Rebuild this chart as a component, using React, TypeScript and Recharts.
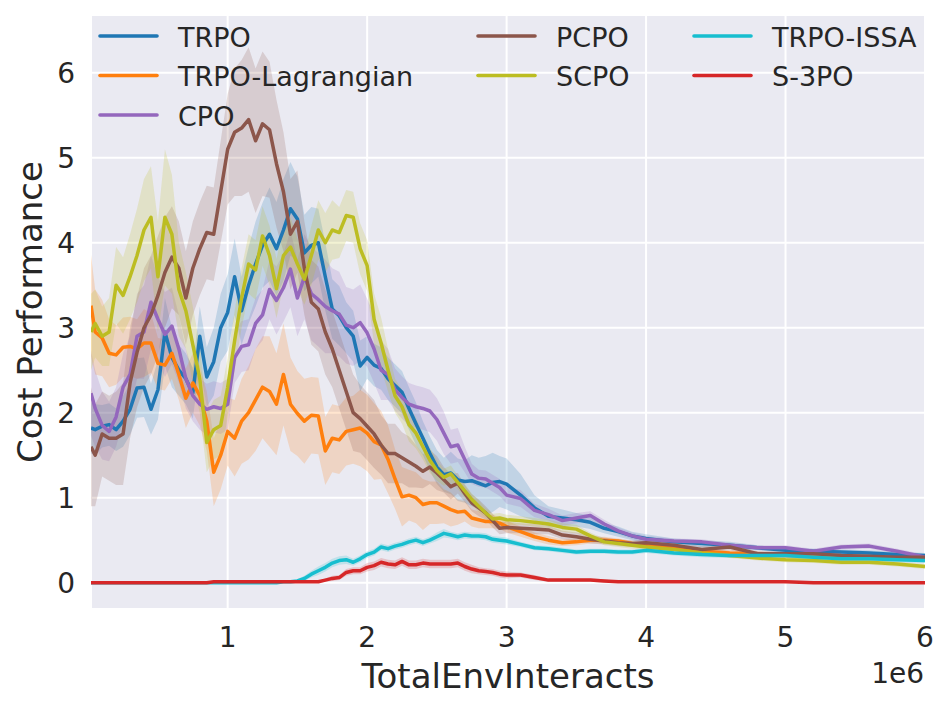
import { Area, CartesianGrid, ComposedChart, Line, XAxis, YAxis } from "recharts";

// Colors (matplotlib tab10)
const COLORS = {
  trpo: "#1f77b4",
  lag: "#ff7f0e",
  cpo: "#9467bd",
  pcpo: "#8c564b",
  scpo: "#bcbd22",
  issa: "#17becf",
  s3po: "#d62728",
};

const FONT = "DejaVu Sans";
const TEXT = "#262626";

// TotalEnvInteracts, in units of 1e6
const X_M = [
  0.02, 0.05, 0.1, 0.15, 0.2, 0.25, 0.3, 0.35, 0.4, 0.45,
  0.5, 0.55, 0.6, 0.65, 0.7, 0.75, 0.8, 0.85, 0.9, 0.95,
  1.0, 1.05, 1.1, 1.15, 1.2, 1.25, 1.3, 1.35, 1.4, 1.45,
  1.5, 1.55, 1.6, 1.65, 1.7, 1.75, 1.8, 1.85, 1.9, 1.95,
  2.0, 2.05, 2.1, 2.15, 2.2, 2.25, 2.3, 2.35, 2.4, 2.45,
  2.5, 2.55, 2.6, 2.65, 2.7, 2.75, 2.8, 2.85, 2.9, 2.95,
  3.0, 3.1, 3.2, 3.3, 3.4, 3.5, 3.6, 3.7, 3.8, 3.9,
  4.0, 4.2, 4.4, 4.6, 4.8, 5.0, 5.2, 5.4, 5.6, 5.8, 6.0,
];

const X_TICKS = [1, 2, 3, 4, 5, 6];
const Y_TICKS = [0, 1, 2, 3, 4, 5, 6];

// mean cost per method
const TRPO = [
  1.82, 1.8, 1.84, 1.86, 1.8, 1.9, 2.04, 2.29, 2.3, 2.04,
  2.27, 2.95, 2.65, 2.5, 2.4, 2.23, 2.9, 2.42, 2.6, 3.0,
  3.18, 3.6, 3.2, 3.5, 3.75, 3.97, 4.1, 3.93, 4.15, 4.4,
  4.28, 3.88, 3.97, 4.0, 3.6, 3.22, 3.14, 3.0, 2.9, 2.55,
  2.65, 2.56, 2.52, 2.4, 2.32, 2.24, 2.05, 1.87, 1.7, 1.52,
  1.36, 1.27, 1.29, 1.21, 1.19, 1.2, 1.17, 1.14, 1.18, 1.19,
  1.16, 1.03, 0.88, 0.78, 0.76, 0.74, 0.71, 0.64, 0.6, 0.55,
  0.52, 0.48, 0.46, 0.44, 0.41, 0.38, 0.37, 0.36, 0.35, 0.33, 0.32,
];
const TRPO_LAG = [
  3.26, 2.95, 2.88, 2.7, 2.68, 2.77, 2.78, 2.75, 2.82, 2.82,
  2.58, 2.56, 2.7, 2.45, 2.17, 2.35, 2.2, 1.9, 1.3, 1.5,
  1.78, 1.7, 1.9, 2.0, 2.15, 2.3, 2.25, 2.1, 2.45, 2.1,
  1.99, 1.9, 1.97, 1.96, 1.55, 1.7, 1.68, 1.78, 1.8, 1.82,
  1.76, 1.66, 1.62, 1.45, 1.22, 1.01, 1.03, 1.0, 0.92, 0.94,
  0.94, 0.9, 0.86, 0.83, 0.84, 0.76, 0.74, 0.72, 0.72, 0.7,
  0.66, 0.6, 0.54, 0.5, 0.47, 0.48, 0.5, 0.5, 0.49, 0.46,
  0.44, 0.41, 0.37, 0.35, 0.34, 0.32, 0.32, 0.3, 0.3, 0.29, 0.28,
];
const CPO = [
  2.23, 2.05, 1.85, 1.78, 1.95, 2.3, 2.45, 2.9, 2.95, 3.3,
  3.1, 2.92, 3.02, 2.75, 2.4, 2.2, 2.1, 2.04, 2.07, 2.05,
  2.1, 2.65, 2.78, 2.8, 3.05, 3.15, 3.45, 3.32, 3.47, 3.69,
  3.35, 3.6, 3.4, 3.33, 3.25, 3.2, 3.16, 3.03, 3.0, 3.06,
  2.94, 2.75, 2.5, 2.45, 2.27, 2.18, 2.1, 2.07, 2.05, 2.02,
  1.92, 1.76, 1.6, 1.62, 1.45, 1.28, 1.23, 1.22, 1.17, 1.12,
  1.03, 0.99, 0.85, 0.8, 0.73, 0.76, 0.79, 0.69, 0.61, 0.55,
  0.51, 0.49, 0.48, 0.44, 0.41, 0.41, 0.37, 0.42, 0.43, 0.37, 0.3,
];
const PCPO = [
  1.6, 1.5, 1.75, 1.7, 1.7, 1.75, 2.35, 2.71, 3.0, 3.15,
  3.38, 3.65, 3.83, 3.7, 3.35, 3.7, 3.93, 4.12, 4.1, 4.6,
  5.1, 5.3, 5.35, 5.45, 5.2, 5.4, 5.33, 4.93, 4.6, 4.1,
  4.25, 3.7, 3.3, 3.22, 2.95, 2.75, 2.5, 2.25, 2.0, 1.93,
  1.84, 1.75, 1.62, 1.52, 1.52, 1.47, 1.42, 1.37, 1.31, 1.36,
  1.29, 1.21, 1.13, 1.17, 1.05, 0.94, 0.88, 0.82, 0.73, 0.64,
  0.65, 0.64, 0.63, 0.62, 0.56, 0.54, 0.51, 0.49, 0.47, 0.46,
  0.47, 0.44, 0.39, 0.42, 0.34, 0.34, 0.34, 0.32, 0.31, 0.3, 0.3,
];
const SCPO = [
  2.95, 3.05, 2.9, 2.95, 3.5, 3.38, 3.6, 3.85, 4.15, 4.3,
  3.6, 4.3, 4.1, 3.45, 3.2, 2.8, 2.4, 1.65, 1.8, 1.85,
  2.3, 2.85, 3.35, 3.75, 3.68, 4.08, 3.85, 3.46, 3.85, 3.95,
  3.75, 3.57, 3.85, 4.15, 4.0, 4.15, 4.12, 4.32, 4.3, 3.93,
  3.73, 3.1, 2.82, 2.5, 2.2, 2.07, 1.86, 1.76, 1.6, 1.44,
  1.32, 1.24, 1.28, 1.18, 1.08, 0.98, 0.9, 0.82, 0.75, 0.76,
  0.74, 0.73, 0.71, 0.69, 0.65, 0.63, 0.55, 0.48, 0.46, 0.44,
  0.42, 0.39, 0.35, 0.32, 0.29, 0.27, 0.26, 0.24, 0.24, 0.22, 0.19,
];
const TRPO_ISSA = [
  0, 0, 0, 0, 0, 0, 0, 0, 0, 0,
  0, 0, 0, 0, 0, 0, 0, 0, 0, 0,
  0, 0, 0, 0, 0, 0, 0, 0, 0.01, 0.01,
  0.02, 0.05, 0.1, 0.14, 0.18, 0.23, 0.26, 0.27, 0.24, 0.28,
  0.33, 0.36, 0.42, 0.4, 0.43, 0.45, 0.48, 0.5, 0.47, 0.5,
  0.54, 0.58, 0.56, 0.54, 0.56, 0.55, 0.55, 0.54, 0.51, 0.5,
  0.49, 0.45, 0.41, 0.4, 0.38, 0.36, 0.37, 0.37, 0.36, 0.36,
  0.38, 0.35, 0.33, 0.32, 0.32, 0.32, 0.3, 0.28, 0.28, 0.27, 0.26,
];
const S3PO = [
  0, 0, 0, 0, 0, 0, 0, 0, 0, 0,
  0, 0, 0, 0, 0, 0, 0, 0, 0.01, 0.01,
  0.01, 0.01, 0.01, 0.01, 0.01, 0.01, 0.01, 0.01, 0.01, 0.01,
  0.01, 0.01, 0.01, 0.01, 0.03, 0.05, 0.06, 0.12, 0.14, 0.14,
  0.18, 0.2, 0.24, 0.22, 0.21, 0.25, 0.21, 0.21, 0.23, 0.22,
  0.22, 0.22, 0.22, 0.23, 0.19, 0.16, 0.14, 0.13, 0.12, 0.1,
  0.09, 0.09, 0.06, 0.03, 0.03, 0.03, 0.03, 0.02, 0.01, 0.01,
  0.01, 0.01, 0.01, 0.01, 0.01, 0.01, 0, 0, 0, 0, 0,
];

// half-width of the shaded band per method
const TRPO_SPREAD = [
  0.3, 0.3, 0.25, 0.25, 0.25, 0.3, 0.3, 0.35, 0.35, 0.3,
  0.35, 0.4, 0.35, 0.3, 0.3, 0.3, 0.35, 0.35, 0.4, 0.4,
  0.45, 0.45, 0.4, 0.45, 0.5, 0.5, 0.55, 0.55, 0.6, 0.55,
  0.5, 0.45, 0.45, 0.4, 0.4, 0.35, 0.35, 0.3, 0.3, 0.3,
  0.25, 0.25, 0.25, 0.25, 0.25, 0.25, 0.25, 0.25, 0.2, 0.2,
  0.2, 0.2, 0.25, 0.25, 0.25, 0.3, 0.3, 0.35, 0.35, 0.3,
  0.3, 0.25, 0.15, 0.12, 0.1, 0.08, 0.08, 0.06, 0.06, 0.05,
  0.05, 0.04, 0.04, 0.04, 0.03, 0.03, 0.03, 0.03, 0.03, 0.03, 0.03,
];
const TRPO_LAG_SPREAD = [
  0.6, 0.5, 0.45, 0.4, 0.35, 0.35, 0.35, 0.35, 0.4, 0.35,
  0.3, 0.3, 0.3, 0.3, 0.35, 0.35, 0.35, 0.35, 0.4, 0.4,
  0.4, 0.45, 0.5, 0.55, 0.6, 0.6, 0.65, 0.6, 0.6, 0.55,
  0.5, 0.5, 0.45, 0.45, 0.4, 0.4, 0.4, 0.4, 0.4, 0.45,
  0.45, 0.45, 0.4, 0.4, 0.35, 0.35, 0.3, 0.3, 0.3, 0.25,
  0.25, 0.2, 0.2, 0.15, 0.12, 0.1, 0.1, 0.08, 0.08, 0.07,
  0.07, 0.06, 0.05, 0.05, 0.04, 0.04, 0.04, 0.04, 0.03, 0.03,
  0.03, 0.03, 0.03, 0.03, 0.03, 0.03, 0.03, 0.03, 0.03, 0.03, 0.03,
];
const CPO_SPREAD = [
  0.5, 0.45, 0.4, 0.35, 0.35, 0.4, 0.45, 0.5, 0.55, 0.55,
  0.5, 0.5, 0.45, 0.4, 0.35, 0.3, 0.3, 0.3, 0.3, 0.3,
  0.3, 0.3, 0.3, 0.3, 0.3, 0.3, 0.35, 0.4, 0.4, 0.45,
  0.45, 0.5, 0.55, 0.55, 0.55, 0.5, 0.5, 0.45, 0.45, 0.45,
  0.4, 0.4, 0.35, 0.3, 0.25, 0.25, 0.25, 0.25, 0.25, 0.25,
  0.25, 0.25, 0.2, 0.2, 0.15, 0.12, 0.1, 0.1, 0.1, 0.1,
  0.1, 0.1, 0.08, 0.07, 0.06, 0.06, 0.05, 0.05, 0.04, 0.04,
  0.04, 0.03, 0.03, 0.03, 0.03, 0.03, 0.03, 0.03, 0.03, 0.03, 0.03,
];
const PCPO_SPREAD = [
  0.7, 0.6, 0.5, 0.5, 0.55, 0.6, 0.65, 0.65, 0.7, 0.7,
  0.7, 0.65, 0.6, 0.55, 0.55, 0.55, 0.55, 0.55, 0.55, 0.6,
  0.65, 0.75, 0.8, 0.85, 0.85, 0.85, 0.8, 0.75, 0.7, 0.65,
  0.6, 0.55, 0.5, 0.5, 0.5, 0.45, 0.45, 0.45, 0.45, 0.4,
  0.4, 0.4, 0.35, 0.35, 0.35, 0.3, 0.3, 0.25, 0.2, 0.2,
  0.2, 0.15, 0.15, 0.12, 0.1, 0.1, 0.1, 0.08, 0.08, 0.07,
  0.07, 0.06, 0.06, 0.05, 0.05, 0.05, 0.05, 0.04, 0.04, 0.04,
  0.04, 0.04, 0.04, 0.04, 0.03, 0.03, 0.03, 0.03, 0.03, 0.03, 0.03,
];
const SCPO_SPREAD = [
  0.45, 0.4, 0.35, 0.4, 0.45, 0.45, 0.5, 0.55, 0.6, 0.6,
  0.65, 0.8, 0.7, 0.55, 0.45, 0.45, 0.4, 0.35, 0.35, 0.35,
  0.35, 0.35, 0.35, 0.35, 0.35, 0.35, 0.35, 0.35, 0.35, 0.35,
  0.3, 0.3, 0.35, 0.35, 0.35, 0.35, 0.3, 0.3, 0.3, 0.3,
  0.3, 0.3, 0.3, 0.25, 0.2, 0.2, 0.2, 0.18, 0.15, 0.15,
  0.12, 0.1, 0.1, 0.08, 0.08, 0.07, 0.07, 0.06, 0.06, 0.06,
  0.06, 0.05, 0.05, 0.05, 0.05, 0.05, 0.04, 0.04, 0.04, 0.04,
  0.03, 0.03, 0.03, 0.03, 0.03, 0.03, 0.03, 0.03, 0.03, 0.03, 0.03,
];
const TRPO_ISSA_SPREAD = [
  0.01, 0.01, 0.01, 0.01, 0.01, 0.01, 0.01, 0.01, 0.01, 0.01,
  0.01, 0.01, 0.01, 0.01, 0.01, 0.01, 0.01, 0.01, 0.01, 0.01,
  0.01, 0.01, 0.01, 0.01, 0.01, 0.01, 0.01, 0.01, 0.01, 0.01,
  0.02, 0.03, 0.04, 0.05, 0.05, 0.05, 0.05, 0.05, 0.04, 0.04,
  0.04, 0.04, 0.04, 0.04, 0.04, 0.04, 0.04, 0.04, 0.04, 0.04,
  0.05, 0.05, 0.04, 0.04, 0.04, 0.04, 0.04, 0.04, 0.04, 0.04,
  0.04, 0.03, 0.03, 0.03, 0.03, 0.03, 0.03, 0.03, 0.03, 0.03,
  0.03, 0.03, 0.03, 0.03, 0.03, 0.03, 0.03, 0.03, 0.03, 0.03, 0.03,
];
const S3PO_SPREAD = [
  0.01, 0.01, 0.01, 0.01, 0.01, 0.01, 0.01, 0.01, 0.01, 0.01,
  0.01, 0.01, 0.01, 0.01, 0.01, 0.01, 0.01, 0.01, 0.01, 0.01,
  0.01, 0.01, 0.01, 0.01, 0.01, 0.01, 0.01, 0.01, 0.01, 0.01,
  0.01, 0.01, 0.01, 0.01, 0.02, 0.03, 0.03, 0.04, 0.04, 0.04,
  0.05, 0.05, 0.05, 0.05, 0.05, 0.05, 0.05, 0.05, 0.05, 0.05,
  0.05, 0.05, 0.05, 0.05, 0.05, 0.05, 0.04, 0.04, 0.04, 0.04,
  0.04, 0.03, 0.03, 0.02, 0.02, 0.02, 0.02, 0.02, 0.01, 0.01,
  0.01, 0.01, 0.01, 0.01, 0.01, 0.01, 0.01, 0.01, 0.01, 0.01, 0.01,
];

const SERIES = [
  { key: "trpo", name: "TRPO", color: COLORS.trpo, mean: TRPO, spread: TRPO_SPREAD },
  { key: "lag", name: "TRPO-Lagrangian", color: COLORS.lag, mean: TRPO_LAG, spread: TRPO_LAG_SPREAD },
  { key: "cpo", name: "CPO", color: COLORS.cpo, mean: CPO, spread: CPO_SPREAD },
  { key: "pcpo", name: "PCPO", color: COLORS.pcpo, mean: PCPO, spread: PCPO_SPREAD },
  { key: "scpo", name: "SCPO", color: COLORS.scpo, mean: SCPO, spread: SCPO_SPREAD },
  { key: "issa", name: "TRPO-ISSA", color: COLORS.issa, mean: TRPO_ISSA, spread: TRPO_ISSA_SPREAD },
  { key: "s3po", name: "S-3PO", color: COLORS.s3po, mean: S3PO, spread: S3PO_SPREAD },
];

// legend is laid out in 3 columns, column-major like matplotlib
const LEGEND_COLS = [["trpo", "lag", "cpo"], ["pcpo", "scpo"], ["issa", "s3po"]];
const LEGEND_X = [100, 478, 694];

const rows = X_M.map((x, i) => {
  const r: Record<string, any> = { x };
  SERIES.forEach((s) => {
    r[s.key] = s.mean[i];
    r[s.key + "Band"] = [s.mean[i] - s.spread[i], s.mean[i] + s.spread[i]];
  });
  return r;
});

function Overlay() {
  return (
    <svg
      width={950}
      height={710}
      style={{ position: "absolute", left: 0, top: 0, pointerEvents: "none" }}
      fontFamily={FONT}
      fill={TEXT}
    >
      {LEGEND_COLS.map((col, ci) =>
        col.map((key, ri) => {
          const s = SERIES.find((d) => d.key === key)!;
          const y = 36 + ri * 39.5;
          const x = LEGEND_X[ci];
          return (
            <g key={key}>
              <line x1={x} x2={x + 57} y1={y} y2={y} stroke={s.color} strokeWidth={3.6} strokeLinecap="round" />
              <text x={x + 78} y={y + 10.5} fontSize={27}>
                {s.name}
              </text>
            </g>
          );
        })
      )}
      <text x={508} y={688} fontSize={34} textAnchor="middle">
        TotalEnvInteracts
      </text>
      <text x={42} y={312} fontSize={34} textAnchor="middle" transform="rotate(-90 42 312)">
        Cost Performance
      </text>
      <text x={924} y={683} fontSize={28} textAnchor="end">
        1e6
      </text>
    </svg>
  );
}

export default function App() {
  const tick = { fontSize: 28, fill: TEXT, fontFamily: FONT };
  return (
    <div style={{ position: "absolute", left: 0, top: 0, width: 950, height: 710, background: "#fff" }}>
      <ComposedChart width={950} height={710} data={rows} margin={{ top: 15, right: 25, bottom: 71, left: 31 }}>
        <CartesianGrid stroke="#ffffff" strokeWidth={2} fill="#EAEAF2" fillOpacity={1} />
        <XAxis
          type="number"
          dataKey="x"
          domain={[0.02, 6]}
          ticks={X_TICKS}
          interval={0}
          allowDataOverflow
          height={30}
          axisLine={false}
          tickLine={false}
          tickSize={0}
          tickMargin={18}
          tick={tick}
        />
        <YAxis
          type="number"
          domain={[-0.31, 6.68]}
          ticks={Y_TICKS}
          interval={0}
          allowDataOverflow
          width={60}
          axisLine={false}
          tickLine={false}
          tickSize={0}
          tickMargin={16}
          tick={tick}
        />
        {SERIES.flatMap((s) => [
          <Area
            key={s.key + "Band"}
            type="linear"
            dataKey={s.key + "Band"}
            stroke="none"
            fill={s.color}
            fillOpacity={0.2}
            activeDot={false}
            isAnimationActive={false}
          />,
          <Line
            key={s.key}
            type="linear"
            dataKey={s.key}
            name={s.name}
            stroke={s.color}
            strokeWidth={3.5}
            strokeLinejoin="round"
            dot={false}
            activeDot={false}
            isAnimationActive={false}
          />,
        ])}
      </ComposedChart>
      <Overlay />
    </div>
  );
}
